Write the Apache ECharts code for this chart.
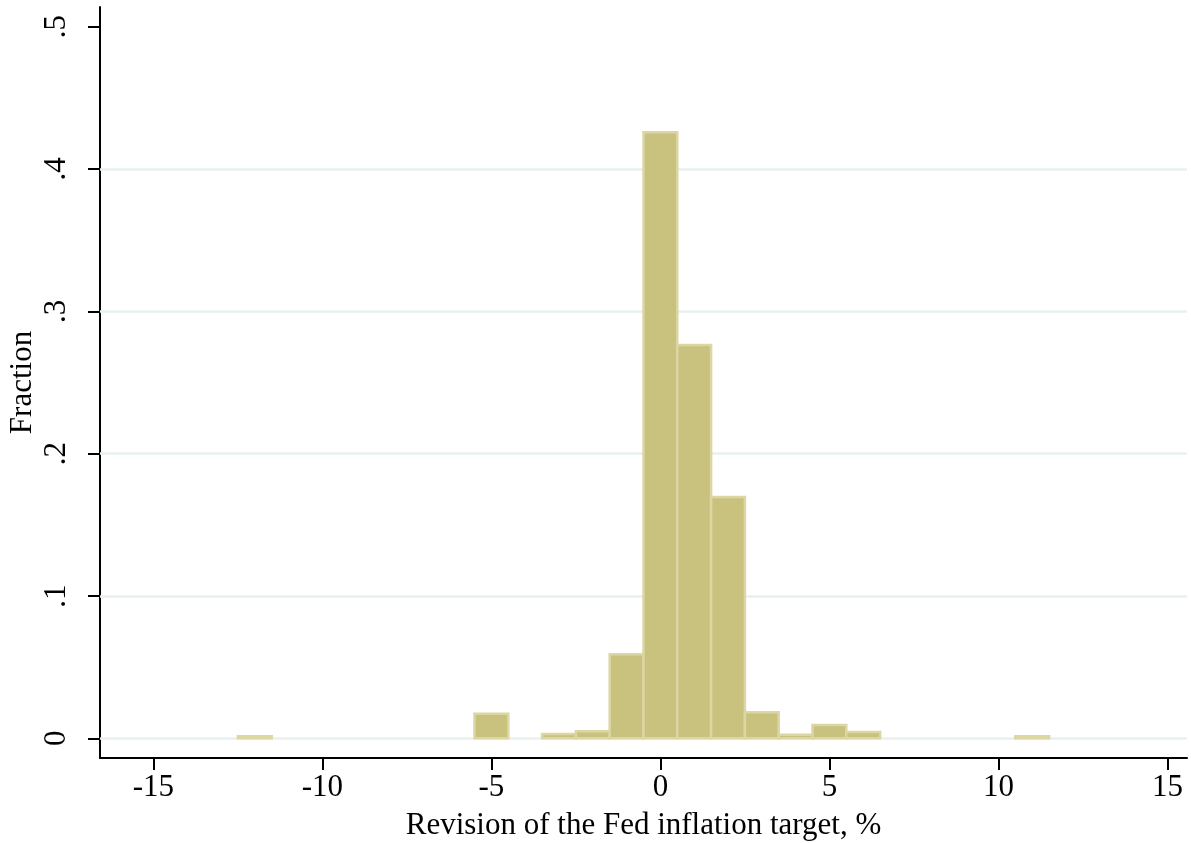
<!DOCTYPE html>
<html>
<head>
<meta charset="utf-8">
<script src="https://cdn.jsdelivr.net/npm/echarts@6/dist/echarts.min.js"></script>
<style>
  html, body { margin: 0; padding: 0; background: #fff; }
  #chart { width: 1191px; height: 843px; }
</style>
</head>
<body>
<div id="chart"></div>
<script>
// Histogram bins (bin width 1, centred on integers)
const binCenters = [-12, -5, -3, -2, -1, 0, 1, 2, 3, 4, 5, 6, 11];
const fractions  = [0.0014, 0.0173, 0.0030, 0.0050, 0.0590, 0.4258, 0.2763, 0.1696, 0.0183, 0.0025, 0.0094, 0.0045, 0.0014];
const binWidth = 1;
const xTicks = [-15, -10, -5, 0, 5, 10, 15];
const yTicks = [0, 0.1, 0.2, 0.3, 0.4, 0.5];
const gridValues = [0, 0.1, 0.2, 0.3, 0.4];

const FONT = 'Liberation Serif';
const chart = echarts.init(document.getElementById('chart'), null, { renderer: 'canvas' });

const data = binCenters.map((c, i) => [c, fractions[i]]);

chart.setOption({
  animation: false,
  backgroundColor: '#ffffff',
  grid: { left: 100, right: 4, top: 7, bottom: 85, containLabel: false, outerBoundsMode: 'none' },
  xAxis: {
    type: 'value',
    min: -16.58, max: 15.58,
    name: 'Revision of the Fed inflation target, %',
    nameLocation: 'middle',
    nameGap: 52,
    nameTextStyle: { fontFamily: FONT, fontSize: 31, color: '#000' },
    axisLine: { show: true, onZero: false, lineStyle: { color: '#000', width: 2 } },
    axisTick: { show: true, length: 12, lineStyle: { color: '#000', width: 2 }, customValues: xTicks },
    axisLabel: {
      fontFamily: FONT, fontSize: 31, color: '#000', margin: 14,
      customValues: xTicks,
      formatter: v => String(v)
    },
    splitLine: { show: false }
  },
  yAxis: {
    type: 'value',
    min: -0.0138, max: 0.5138,
    name: 'Fraction',
    nameLocation: 'middle',
    nameGap: 62,
    nameMoveOverlap: false,
    nameRotate: 90,
    nameTextStyle: { fontFamily: FONT, fontSize: 31, color: '#000' },
    axisLine: { show: true, onZero: false, lineStyle: { color: '#000', width: 2 } },
    axisTick: { show: true, length: 12, lineStyle: { color: '#000', width: 2 }, customValues: yTicks },
    axisLabel: {
      fontFamily: FONT, fontSize: 31, color: '#000', margin: 28, rotate: 90,
      customValues: yTicks,
      formatter: v => (v === 0 ? '0' : String(Math.round(v * 10) / 10).replace(/^0/, ''))
    },
    splitLine: { show: false }
  },
  series: [
    {
      type: 'custom',
      data: data,
      encode: { x: 0, y: 1 },
      clip: false,
      renderItem: function (params, api) {
        const c = api.value(0);
        const v = api.value(1);
        const p0 = api.coord([c - binWidth / 2, v]);
        const p1 = api.coord([c + binWidth / 2, 0]);
        return {
          type: 'rect',
          shape: { x: p0[0], y: p0[1], width: p1[0] - p0[0], height: p1[1] - p0[1] },
          style: { fill: '#c9c27e', stroke: '#dcd6a2', lineWidth: 2.5 }
        };
      },
      markLine: {
        silent: true,
        symbol: 'none',
        label: { show: false },
        lineStyle: { color: '#e8f0f0', width: 2.5, type: 'solid' },
        z: 1,
        data: gridValues.map(v => ({ yAxis: v }))
      },
      z: 2
    }
  ]
});
</script>
</body>
</html>
